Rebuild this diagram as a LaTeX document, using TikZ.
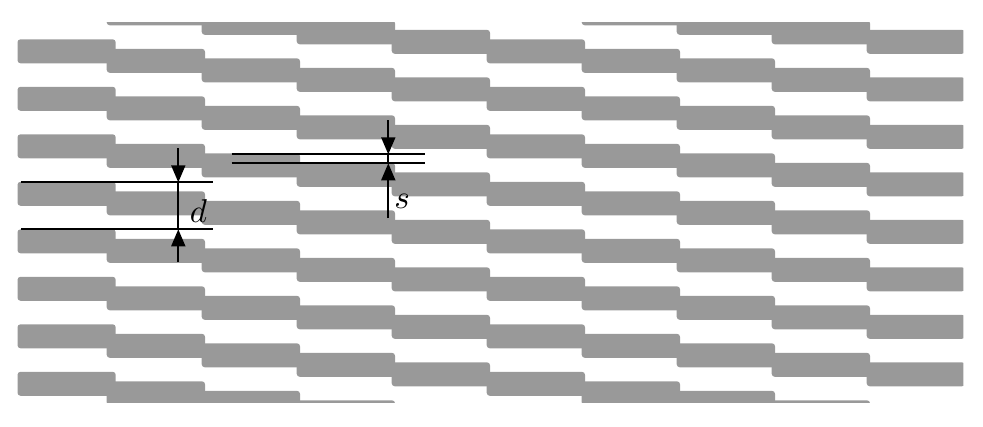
\documentclass[tikz,border=0pt]{standalone}
\usepackage{graphicx}
\usetikzlibrary{arrows.meta}
\definecolor{brickgray}{RGB}{153,153,153}
\tikzset{
  brick/.style={fill=brickgray, rounded corners=3pt},
  dimline/.style={line width=1.8pt},
  dimarrow/.style={line width=1.8pt, -{Triangle[width=14pt,length=17pt]}},
  dimlabel/.style={inner sep=0pt}
}
\begin{document}
\begin{tikzpicture}[x=1pt, y=-1pt]
\useasboundingbox (0,0) rectangle (983,426);

\begin{scope}
\clip (0,22.7) rectangle (963.3,402);
\foreach \n in {-1,...,8}
  \fill[brick] (17.5,39.3+47.5*\n) rectangle +(98.2,24);
\foreach \k in {1,...,9} {
  \pgfmathsetmacro\ystart{mod(39.3+9.5*\k,47.5)-47.5}
  \foreach \n in {0,...,9}
    \fill[brick] (11.7+95*\k,\ystart+47.5*\n) rectangle +(98.3,24);
}
\end{scope}

\coordinate (dupl) at (21,182.3);
\coordinate (dupr) at (213,182.3);
\coordinate (dlol) at (21,229.3);
\coordinate (dlor) at (213,229.3);
\coordinate (dtop) at (178.3,148);
\coordinate (dhi) at (178.3,182.3);
\coordinate (dlo) at (178.3,229.3);
\coordinate (dbot) at (178.3,262);
\draw[dimline] (dupl) -- (dupr);
\draw[dimline] (dlol) -- (dlor);
\draw[dimline] (dhi) -- (dlo);
\draw[dimarrow] (dtop) -- (dhi);
\draw[dimarrow] (dbot) -- (dlo);
\node[dimlabel] (dlabel) at (198.5,211) {\scalebox{3.3}{$d$}};

\coordinate (supl) at (231.5,154.3);
\coordinate (supr) at (425,154.3);
\coordinate (slol) at (231.5,163.3);
\coordinate (slor) at (425,163.3);
\coordinate (stop) at (388.3,120);
\coordinate (shi) at (388.3,154.3);
\coordinate (slo) at (388.3,163.3);
\coordinate (sbot) at (388.3,218);
\draw[dimline] (supl) -- (supr);
\draw[dimline] (slol) -- (slor);
\draw[dimline] (shi) -- (slo);
\draw[dimarrow] (stop) -- (shi);
\draw[dimarrow] (sbot) -- (slo);
\node[dimlabel] (slabel) at (402,201.7) {\scalebox{3.3}{$s$}};

\end{tikzpicture}
\end{document}
